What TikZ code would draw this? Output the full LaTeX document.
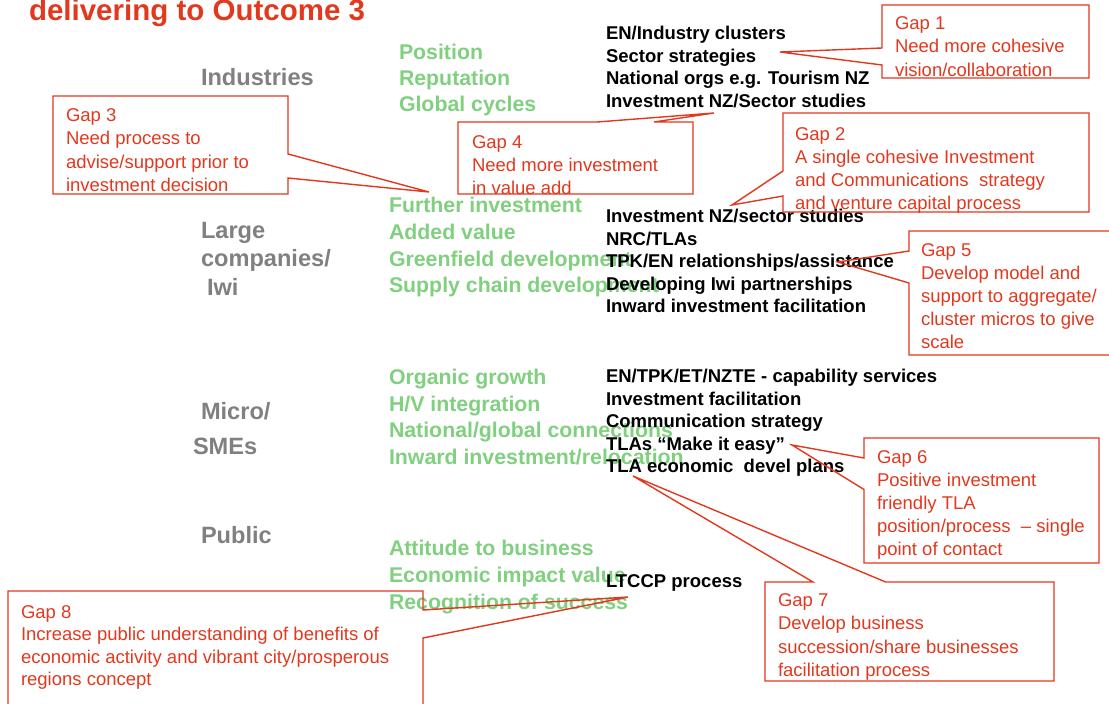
\documentclass[tikz,border=0pt]{standalone}
\usepackage{fontspec}
\setmainfont{Liberation Sans}
\definecolor{gapred}{RGB}{226,56,30}
\definecolor{lblgray}{RGB}{128,128,128}
\definecolor{lgreen}{RGB}{128,208,128}
\tikzset{
  bw/.style={anchor=base west, inner sep=0pt, outer sep=0pt},
  graylbl/.style={bw, text=lblgray, font=\fontsize{23.6}{28}\selectfont\bfseries},
  greenlbl/.style={bw, text=lgreen, font=\fontsize{21.3}{26}\selectfont\bfseries},
  blacklbl/.style={bw, text=black, font=\fontsize{18.5}{22}\selectfont\bfseries},
  gaptxt/.style={bw, text=gapred, font=\fontsize{18.5}{23}\selectfont},
  titletxt/.style={bw, text=gapred, font=\fontsize{29.5}{34}\selectfont\bfseries},
  callout/.style={draw=gapred, line width=1.4pt, line join=miter},
}
\newcommand\linesat[6]{\foreach \t [count=\i from 0] in {#6}{\node[#1] (#2-\i) at (#3,{#4+\i*#5}) {\t};}}
\begin{document}
\begin{tikzpicture}[x=1pt,y=-1pt]
\useasboundingbox (0,0) rectangle (1109,704);
\clip (0,0) rectangle (1109,704);
% title
\node[titletxt] (title) at (29,20.5) {delivering to Outcome 3};
% gray row labels
\node[graylbl] (ind) at (201,85.5) {Industries};
\node[graylbl] (large1) at (201,238) {Large};
\node[graylbl] (large2) at (201,266.5) {companies/};
\node[graylbl] (large3) at (207,295) {Iwi};
\node[graylbl] (micro1) at (201,419.5) {Micro/};
\node[graylbl] (micro2) at (193,454) {SMEs};
\node[graylbl] (pub) at (201,543.5) {Public};
% green texts
\linesat{greenlbl}{gA}{399}{59.6}{26}{Position,Reputation,Global cycles}
\linesat{greenlbl}{gB}{389}{212.6}{26.7}{Further investment,Added value,Greenfield development,Supply chain development}
\linesat{greenlbl}{gC}{389}{384.3}{26.7}{Organic growth,H/V integration,National/global connections,Inward investment/relocation}
\linesat{greenlbl}{gD}{389}{555.6}{26.8}{Attitude to business,Economic impact value,Recognition of success}
% black texts
\linesat{blacklbl}{bA}{606}{39.5}{22.7}{EN/Industry clusters,Sector strategies,National orgs e.g. Tourism NZ,Investment NZ/Sector studies}
\linesat{blacklbl}{bB}{606}{222.5}{22.6}{Investment NZ/sector studies,NRC/TLAs,TPK/EN relationships/assistance,Developing Iwi partnerships,Inward investment facilitation}
\linesat{blacklbl}{bC}{606}{382.5}{22.5}{EN/TPK/ET/NZTE - capability services,Investment facilitation,Communication strategy,TLAs “Make it easy”,TLA economic\ \ devel plans}
\node[blacklbl] (ltccp) at (606,587) {LTCCP process};
% callout shapes
\draw[callout] (882,5) -- (1089,5) -- (1089,78) -- (882,78) -- (882,65) -- (780,52) -- (882,48) -- cycle;
\draw[callout] (53,96) -- (288,96) -- (288,154) -- (429,192) -- (288,178) -- (288,194) -- (53,194) -- cycle;
\draw[callout] (458,122) -- (597,122) -- (714,113) -- (654,122) -- (693,122) -- (693,194) -- (458,194) -- cycle;
\draw[callout] (783,113) -- (1089,113) -- (1089,212) -- (783,212) -- (783,196) -- (732,205) -- (783,171) -- cycle;
\draw[callout] (909,231) -- (1115,231) -- (1115,355) -- (909,355) -- (909,283) -- (838,262) -- (909,251) -- cycle;
\draw[callout] (864,438) -- (1099,438) -- (1099,563) -- (864,563) -- (864,489.5) -- (792,445) -- (864,458) -- cycle;
\draw[callout] (765,582) -- (813,582) -- (633,476) -- (885.6,582) -- (1054,582) -- (1054,681) -- (765,681) -- cycle;
\draw[callout] (8,591) -- (423,591) -- (423,610) -- (628,597) -- (423,638) -- (423,720) -- (8,720) -- cycle;
% callout texts
\linesat{gaptxt}{gap1}{895}{29.6}{23.3}{Gap 1,Need more cohesive,vision/collaboration}
\linesat{gaptxt}{gap3}{66}{121.6}{23.3}{Gap 3,Need process to,advise/support prior to,investment decision}
\linesat{gaptxt}{gap4}{472}{148.3}{23.2}{Gap 4,Need more investment,in value add}
\linesat{gaptxt}{gap2}{795}{140}{23}{Gap 2,A single cohesive Investment,and Communications\ \ strategy,and venture capital process}
\linesat{gaptxt}{gap5}{921}{256.6}{23}{Gap 5,Develop model and,support to aggregate/,cluster micros to give,scale}
\linesat{gaptxt}{gap6}{877}{463.3}{23}{Gap 6,Positive investment,friendly TLA,position/process\ \ – single,point of contact}
\linesat{gaptxt}{gap7}{778}{606.6}{23.2}{Gap 7,Develop business,succession/share businesses,facilitation process}
\linesat{gaptxt}{gap8}{21}{618}{22.6}{Gap 8,Increase public understanding of benefits of,economic activity and vibrant city/prosperous,regions concept}
\end{tikzpicture}
\end{document}
